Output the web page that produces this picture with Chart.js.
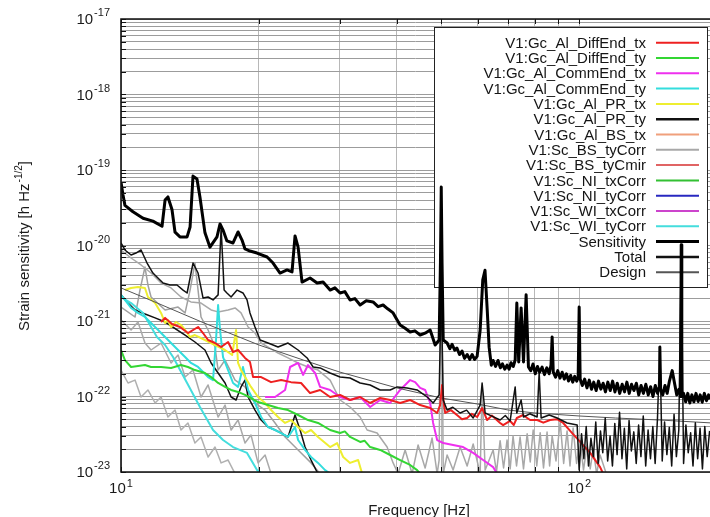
<!DOCTYPE html>
<html>
<head>
<meta charset="utf-8">
<title>Strain sensitivity</title>
<script src="https://cdn.jsdelivr.net/npm/chart.js@4.4.1/dist/chart.umd.min.js"></script>
<style>
  html, body { margin: 0; padding: 0; background: #fff; }
  #wrap { width: 710px; height: 517px; }
</style>
</head>
<body>
<div id="wrap"><canvas id="sensChart" width="710" height="517"></canvas></div>
<script>
// --- values: [frequency Hz, strain 1/sqrt(Hz)] ---

const sensitivity = [
  [10.0, 6.9e-20], [10.1, 4.7e-20], [10.2, 3.4e-20], [10.62, 2.8e-20], [11.17, 2.3e-20],
  [11.74, 2.1e-20], [12.29, 1.8e-20], [12.48, 4.0e-20], [12.66, 4.4e-20], [12.92, 3.0e-20],
  [13.12, 1.5e-20], [13.45, 1.3e-20], [13.94, 1.3e-20], [14.15, 1.76e-20], [14.36, 8.3e-20],
  [14.65, 7.6e-20], [14.87, 4.4e-20], [15.25, 1.47e-20], [15.64, 9.5e-21], [16.2, 1.3e-20],
  [16.45, 1.93e-20], [16.7, 1.6e-20], [17.03, 1.15e-20], [17.56, 1.08e-20], [18.01, 1.51e-20],
  [18.37, 1.18e-20], [18.65, 9.0e-21], [19.12, 8.45e-21], [19.81, 7.95e-21], [20.84, 7.04e-21],
  [21.47, 5.86e-21], [22.24, 4.32e-21], [23.04, 4.74e-21], [23.62, 4.46e-21], [23.98, 1.34e-20],
  [24.35, 9.5e-21], [24.84, 3.28e-21], [25.86, 3.71e-21], [26.79, 3.18e-21], [27.61, 3.28e-21],
  [28.6, 2.57e-21], [29.3, 2.75e-21], [30.07, 2.35e-21], [30.8, 2.45e-21], [31.62, 1.9e-21],
  [32.4, 1.98e-21], [33.26, 1.63e-21], [34.3, 1.85e-21], [35.49, 1.79e-21], [36.4, 1.55e-21],
  [37.33, 1.63e-21], [38.2, 1.45e-21], [39.26, 1.28e-21], [40.0, 1.05e-21], [40.66, 8.85e-22],
  [41.7, 8.0e-22], [42.76, 7.15e-22], [43.8, 7.4e-22], [44.97, 6.52e-22], [46.1, 6.9e-22],
  [47.29, 7.6e-22], [48.49, 4.81e-22], [49.47, 5.6e-22], [49.8, 6.0e-21], [50.0, 5.95e-20],
  [50.2, 6.0e-21], [50.5, 5.6e-22], [51.5, 5.11e-22], [52.2, 4.3e-22], [52.8, 4.9e-22],
  [53.5, 4.1e-22], [54.1, 4.39e-22], [54.8, 3.6e-22], [55.5, 4.0e-22], [56.2, 3.2e-22],
  [56.95, 3.6e-22], [57.7, 3.1e-22], [58.4, 3.6e-22], [59.1, 3.1e-22], [59.88, 3.4e-22],
  [60.8, 7.6e-22], [61.6, 3.5e-21], [62.3, 4.7e-21], [63.0, 1.4e-21], [63.6, 4.5e-22],
  [64.3, 2.6e-22], [64.9, 3.0e-22], [65.7, 2.5e-22], [66.5, 3.0e-22], [67.3, 2.4e-22],
  [68.0, 2.7e-22], [68.8, 2.3e-22], [69.6, 2.6e-22], [70.3, 2.3e-22], [71.0, 2.8e-22],
  [71.8, 2.5e-22], [72.5, 3.04e-22], [73.1, 1.73e-21], [73.8, 2.86e-22], [74.7, 1.49e-21],
  [75.6, 2.86e-22], [76.6, 2.22e-21], [77.5, 2.46e-22], [78.4, 2.2e-22], [79.3, 2.7e-22],
  [80.2, 2.0e-22], [81.1, 2.5e-22], [82.0, 2.1e-22], [83.0, 2.45e-22], [84.0, 1.95e-22],
  [85.0, 2.4e-22], [86.0, 2.0e-22], [86.8, 2.6e-22], [87.3, 6.14e-22], [87.8, 2.1e-22],
  [88.8, 1.8e-22], [89.8, 2.2e-22], [90.8, 1.75e-22], [91.8, 2.1e-22], [92.8, 1.7e-22],
  [93.8, 2.0e-22], [94.8, 1.6e-22], [95.8, 1.9e-22], [96.8, 1.55e-22], [97.8, 1.85e-22],
  [98.8, 1.6e-22], [99.5, 1.8e-22], [100.0, 1.53e-21], [100.5, 1.7e-22], [101.6, 1.4e-22],
  [102.8, 1.7e-22], [104.0, 1.3e-22], [105.2, 1.65e-22], [106.4, 1.25e-22], [107.6, 1.55e-22],
  [108.9, 1.2e-22], [110.2, 1.6e-22], [111.5, 1.25e-22], [112.8, 1.5e-22], [114.1, 1.15e-22],
  [115.5, 1.55e-22], [116.9, 1.2e-22], [118.3, 1.6e-22], [119.7, 1.15e-22], [121.1, 1.5e-22],
  [122.6, 1.1e-22], [124.1, 1.45e-22], [125.6, 1.15e-22], [127.1, 1.55e-22], [128.6, 1.1e-22],
  [130.1, 1.45e-22], [131.7, 1.2e-22], [133.3, 1.5e-22], [134.9, 1.05e-22], [136.5, 1.4e-22],
  [138.1, 1.1e-22], [139.8, 1.45e-22], [141.5, 1.05e-22], [143.2, 1.35e-22], [144.9, 1.0e-22],
  [146.6, 1.4e-22], [148.3, 1.1e-22], [149.4, 1.3e-22], [150.0, 4.52e-22], [150.6, 1.25e-22],
  [152.2, 1.05e-22], [153.9, 1.4e-22], [155.6, 1.1e-22], [157.4, 1.6e-22], [159.6, 2.2e-22],
  [161.5, 1.5e-22], [163.3, 1.05e-22], [165.2, 1.25e-22], [166.5, 1.0e-22], [167.0, 1.02e-20],
  [167.5, 1.0e-22], [169.0, 1.1e-22], [170.8, 8.5e-23], [172.6, 1.1e-22], [174.4, 8.2e-23],
  [176.2, 1.05e-22], [178.0, 8.5e-23], [179.9, 1.1e-22], [181.8, 8.6e-23], [183.7, 1.05e-22],
  [185.6, 8.4e-23], [187.6, 1.1e-22], [189.6, 8.8e-23], [191.6, 1.05e-22], [193.0, 9.2e-23]
];

const total = [
  [10.0, 1.08e-20], [10.2, 8.72e-21], [10.52, 7.49e-21], [10.78, 7.95e-21], [11.06, 8.72e-21],
  [11.4, 5.86e-21], [11.74, 4.32e-21], [12.35, 3.18e-21], [12.79, 3.0e-21], [13.25, 3.0e-21],
  [13.66, 2.57e-21], [13.94, 2.35e-21], [14.36, 5.86e-21], [14.73, 4.32e-21], [15.1, 2.02e-21],
  [15.49, 2.08e-21], [15.88, 1.9e-21], [16.29, 2.22e-21], [16.54, 1.71e-20], [16.79, 2.57e-21],
  [17.03, 2.35e-21], [17.39, 2.08e-21], [17.92, 2.57e-21], [18.46, 2.35e-21], [18.84, 1.9e-21],
  [19.12, 1.28e-21], [19.61, 8.33e-22], [20.12, 5.6e-22], [20.94, 5.11e-22], [22.02, 4.52e-22],
  [23.15, 5.11e-22], [24.35, 4.13e-22], [25.48, 3.24e-22], [26.26, 2.46e-22], [27.2, 2.39e-22],
  [28.6, 2.05e-22], [30.07, 1.81e-22], [31.62, 1.76e-22], [33.26, 1.51e-22], [34.98, 1.42e-22],
  [36.78, 1.22e-22], [38.68, 1.22e-22], [40.06, 1.34e-22], [42.12, 1.3e-22], [44.29, 1.22e-22],
  [46.58, 9.85e-23], [48.0, 8.2e-23], [49.47, 1.05e-22], [50.0, 2.57e-21], [50.5, 8.99e-23],
  [51.5, 6.62e-23], [53.0, 7.2e-23], [54.98, 6.05e-23], [56.8, 6.6e-23], [58.7, 5.19e-23],
  [60.8, 7.71e-23], [61.4, 1.51e-22], [62.34, 6.05e-23], [64.5, 5.5e-23], [67.21, 4.88e-23],
  [69.0, 5.6e-23], [70.68, 4.74e-23], [72.5, 1.34e-22], [73.1, 6.05e-23], [74.7, 8.99e-23],
  [75.6, 5.35e-23], [78.0, 5.9e-23], [80.97, 5.35e-23], [81.79, 2.11e-22], [82.6, 5.19e-23],
  [86.0, 5.7e-23], [89.54, 5.19e-23], [94.1, 4.46e-23], [99.0, 4.18e-23], [100.0, 1.06e-23],
  [101.2, 3.2e-23], [102.4, 1.5e-23], [103.6, 4.0e-23], [104.8, 1.2e-23], [106.1, 2.8e-23],
  [107.4, 1.6e-23], [108.7, 4.6e-23], [110.0, 1.3e-23], [111.3, 3.5e-23], [112.6, 1.8e-23],
  [114.0, 5.2e-23], [115.4, 1.4e-23], [116.8, 3.0e-23], [118.2, 1.2e-23], [119.6, 4.4e-23],
  [121.0, 1.7e-23], [122.5, 6.2e-23], [124.0, 1.5e-23], [125.5, 3.8e-23], [127.0, 1.1e-23],
  [128.5, 4.8e-23], [130.0, 1.9e-23], [131.6, 3.4e-23], [133.2, 1.3e-23], [134.8, 4.2e-23],
  [136.4, 1.6e-23], [138.0, 5.5e-23], [139.7, 1.2e-23], [141.4, 3.6e-23], [143.1, 1.5e-23],
  [144.8, 4.0e-23], [146.5, 1.3e-23], [148.2, 5.0e-23], [150.0, 4.52e-22], [151.8, 1.4e-23],
  [153.6, 4.6e-23], [155.4, 1.7e-23], [157.3, 3.9e-23], [159.2, 1.2e-23], [161.1, 5.8e-23],
  [163.0, 1.6e-23], [165.0, 3.6e-23], [167.0, 8.72e-21], [169.0, 1.3e-23], [171.0, 4.2e-23],
  [173.0, 1.8e-23], [175.1, 3.3e-23], [177.2, 1.2e-23], [179.3, 4.5e-23], [181.4, 1.5e-23],
  [183.6, 3.8e-23], [185.8, 1.1e-23], [188.0, 4.0e-23], [190.3, 1.6e-23], [192.6, 3.5e-23]
];

const design = [
  [10, 2.74e-21], [12, 1.73e-21], [15, 9.7e-22], [20, 4.81e-22], [25, 3.04e-22],
  [30, 2.11e-22], [40, 1.3e-22], [50, 9.55e-23], [60, 7.95e-23], [70, 6.62e-23],
  [80, 6.05e-23], [100, 5.52e-23], [120, 5.19e-23], [150, 4.88e-23], [195, 4.46e-23]
];

const diffEndTx = [
  [12.23, 9.7e-22], [12.48, 1.1e-21], [12.92, 9.13e-22], [13.45, 8.33e-22], [14.0, 6.93e-22],
  [14.73, 8.33e-22], [15.1, 6.93e-22], [15.49, 5.6e-22], [16.04, 5.11e-22], [16.54, 4.52e-22],
  [17.13, 5.27e-22], [17.56, 3.88e-22], [18.01, 4.13e-22], [18.65, 3.24e-22], [19.12, 2.86e-22],
  [19.42, 1.81e-22], [20.22, 1.81e-22], [21.26, 1.55e-22], [22.36, 1.65e-22], [23.5, 1.55e-22],
  [24.72, 1.51e-22], [25.86, 1.11e-22], [27.2, 1.22e-22], [28.6, 9.85e-23], [30.07, 1.05e-22],
  [31.62, 8.99e-23], [33.26, 9.85e-23], [34.98, 8.2e-23], [36.78, 9.55e-23], [38.68, 8.99e-23],
  [40.66, 8.2e-23], [42.76, 8.99e-23], [44.97, 7.71e-23], [47.29, 7.04e-23], [48.98, 6.05e-23],
  [49.72, 7.71e-23], [50.2, 1.42e-22], [50.7, 7.71e-23], [51.0, 6.05e-23], [52.5, 6.6e-23],
  [54.1, 5.69e-23], [55.5, 5.0e-23], [56.95, 5.19e-23], [58.3, 5.9e-23], [59.88, 5.35e-23],
  [61.4, 7.04e-23], [62.97, 4.88e-23], [64.5, 5.6e-23], [67.21, 4.46e-23], [68.24, 4.18e-23],
  [70.68, 4.74e-23], [72.0, 4.2e-23], [73.1, 5.19e-23], [75.45, 5.69e-23], [77.0, 5.2e-23],
  [78.16, 4.88e-23], [80.97, 4.88e-23], [83.5, 4.5e-23], [86.4, 4.88e-23], [89.5, 5.0e-23],
  [92.28, 4.46e-23], [96.54, 3.28e-23], [100.5, 2.5e-23], [105.7, 1.79e-23], [111.1, 1.16e-23],
  [112.8, 9.5e-24]
];

const diffEndTy = [
  [10.0, 4.13e-22], [10.2, 3.04e-22], [10.52, 2.46e-22], [11.28, 2.61e-22], [11.63, 2.46e-22],
  [12.23, 2.46e-22], [12.86, 2.39e-22], [13.52, 2.61e-22], [14.0, 2.46e-22], [14.5, 2.24e-22],
  [15.25, 2.05e-22], [15.73, 1.81e-22], [16.29, 1.51e-22], [16.87, 1.34e-22], [17.39, 1.22e-22],
  [18.01, 1.15e-22], [18.65, 1.05e-22], [19.22, 9.55e-23], [19.91, 8.45e-23], [20.94, 7.71e-23],
  [22.02, 7.04e-23], [23.15, 6.62e-23], [24.35, 5.69e-23], [25.6, 4.88e-23], [26.92, 4.46e-23],
  [28.6, 3.6e-23], [30.07, 3.28e-23], [30.8, 3.45e-23], [31.62, 2.91e-23], [33.26, 2.5e-23],
  [34.0, 2.6e-23], [34.98, 2.14e-23], [36.78, 1.96e-23], [38.68, 1.68e-23], [40.66, 1.44e-23],
  [42.76, 1.24e-23], [44.29, 1.06e-23], [44.97, 9.5e-24]
];

const commEndTx = [
  [20.63, 9.85e-23], [21.69, 9.85e-23], [22.81, 1.22e-22], [23.39, 2.46e-22], [24.35, 2.78e-22],
  [24.97, 1.93e-22], [25.6, 2.61e-22], [26.52, 2.05e-22], [27.2, 1.34e-22], [28.6, 1.22e-22],
  [30.07, 9.85e-23], [31.62, 8.99e-23], [33.26, 9.85e-23], [34.98, 7.26e-23], [36.78, 8.99e-23],
  [38.68, 8.2e-23], [40.66, 1.22e-22], [42.12, 1.51e-22], [42.76, 1.65e-22], [43.85, 1.55e-22],
  [44.97, 1.3e-22], [46.11, 1.22e-22], [47.29, 8.2e-23], [48.0, 4.46e-23], [48.98, 2.65e-23],
  [50.5, 2.42e-23], [53.07, 2.28e-23], [55.8, 2.14e-23], [58.7, 1.79e-23], [61.71, 1.44e-23],
  [64.9, 1.16e-23], [66.22, 9.5e-24]
];

const commEndTy = [
  [10.0, 2.22e-21], [10.52, 1.49e-21], [10.89, 1.28e-21], [11.28, 1.13e-21], [11.63, 9.41e-22],
  [12.05, 7.6e-22], [12.48, 6.14e-22], [12.86, 5.11e-22], [13.32, 4.13e-22], [13.8, 3.33e-22],
  [14.21, 2.78e-22], [14.73, 2.46e-22], [15.49, 1.81e-22], [15.88, 1.65e-22], [16.12, 5.6e-22],
  [16.29, 1.63e-21], [16.45, 7.6e-22], [16.7, 3.33e-22], [17.13, 2.24e-22], [17.56, 1.51e-22],
  [18.01, 1.34e-22], [18.46, 2.46e-22], [18.94, 1.22e-22], [19.61, 8.2e-23], [20.22, 5.35e-23],
  [20.94, 3.94e-23], [21.69, 3.6e-23], [22.36, 3.28e-23], [23.15, 2.91e-23], [23.98, 3.94e-23],
  [24.35, 2.65e-23], [25.22, 1.96e-23], [25.99, 1.58e-23], [26.92, 1.32e-23], [27.89, 1.06e-23],
  [28.6, 9.5e-24]
];

const prTx = [
  [10.2, 2.57e-21], [10.52, 2.74e-21], [10.89, 2.82e-21], [11.28, 2.74e-21], [11.45, 2.08e-21],
  [11.87, 1.73e-21], [12.23, 1.28e-21], [12.48, 9.41e-22], [12.66, 1.03e-21], [12.86, 8.33e-22],
  [13.19, 9.7e-22], [13.52, 8.85e-22], [13.8, 7.6e-22], [14.15, 6.14e-22], [14.5, 6.52e-22],
  [15.25, 5.6e-22], [16.04, 4.81e-22], [16.87, 4.13e-22], [17.48, 3.54e-22], [17.83, 7.6e-22],
  [18.01, 2.78e-22], [18.28, 2.24e-22], [18.65, 1.81e-22], [19.22, 1.34e-22], [19.91, 9.85e-23],
  [20.63, 8.2e-23], [21.26, 6.62e-23], [22.02, 5.35e-23], [22.81, 4.46e-23], [23.5, 4.88e-23],
  [24.35, 3.94e-23], [25.22, 3.28e-23], [25.99, 3.6e-23], [26.92, 2.91e-23], [28.6, 2.14e-23],
  [29.63, 2.42e-23], [30.54, 1.58e-23], [31.62, 1.32e-23], [32.93, 1.44e-23], [33.6, 9.5e-24]
];

const prTy = [
  [10.0, 2.22e-21], [10.36, 1.73e-21], [10.73, 1.4e-21], [11.28, 1.24e-21], [11.87, 1.1e-21],
  [12.48, 9.7e-22], [13.8, 6.52e-22], [14.5, 5.27e-22], [15.25, 4.13e-22], [15.73, 2.78e-22],
  [16.29, 2.05e-22], [16.87, 1.51e-22], [17.39, 9.85e-23], [17.83, 8.99e-23], [18.28, 1.34e-22],
  [18.65, 1.65e-22], [18.94, 9.85e-23], [19.61, 6.62e-23], [20.22, 4.88e-23], [20.94, 3.94e-23],
  [21.69, 3.6e-23], [22.36, 3.28e-23], [23.15, 2.91e-23], [23.98, 5.69e-23], [24.6, 3.6e-23],
  [25.22, 2.14e-23], [25.99, 1.44e-23], [26.66, 1.06e-23], [26.92, 9.5e-24]
];

const bsTyCorr = [
  [10.0, 8.72e-21], [10.52, 6.83e-21], [11.06, 5.52e-21], [11.63, 4.32e-21], [12.23, 3.18e-21],
  [12.86, 2.74e-21], [13.52, 2.08e-21], [14.21, 1.79e-21], [14.95, 1.73e-21], [15.73, 1.4e-21],
  [16.29, 1.32e-21], [17.13, 1.4e-21], [17.74, 1.49e-21], [18.28, 1.28e-21], [18.94, 8.33e-22],
  [19.61, 6.93e-22], [20.22, 5.11e-22], [20.94, 4.52e-22], [22.02, 3.77e-22], [23.15, 3.24e-22],
  [24.35, 2.78e-22], [25.6, 2.46e-22], [26.92, 2.24e-22], [28.6, 1.65e-22], [30.07, 8.99e-23],
  [31.62, 7.26e-23], [33.26, 5.35e-23], [34.45, 3.6e-23], [36.22, 3.28e-23], [38.09, 2.14e-23],
  [39.26, 1.32e-23], [40.25, 9.5e-24], [41.7, 1.96e-23], [43.19, 9.5e-24], [44.51, 2.28e-23],
  [46.11, 1.13e-23], [47.75, 2.82e-23], [48.98, 9.5e-24], [49.47, 1.44e-23], [50.0, 4.66e-20],
  [50.5, 9.5e-24], [51.5, 1.68e-23], [53.07, 1.06e-23], [54.98, 2.14e-23], [56.95, 1.2e-23],
  [58.7, 2.35e-23], [60.8, 9.5e-24], [61.4, 1.3e-22], [62.34, 1.06e-23], [64.9, 1.96e-23],
  [66.0, 1.0e-23], [67.21, 2.6e-23], [68.4, 1.13e-23], [69.6, 2.65e-23], [70.7, 1.1e-23],
  [71.73, 3.0e-23], [73.0, 1.2e-23], [74.31, 2.91e-23], [75.6, 1.1e-23], [77.0, 3.2e-23],
  [78.2, 1.36e-23], [79.36, 3.6e-23], [80.8, 1.2e-23], [82.2, 3.3e-23], [83.6, 1.13e-23],
  [85.1, 3.39e-23], [86.2, 1.2e-23], [87.3, 3.0e-23], [89.0, 1.4e-23], [90.9, 4.59e-23],
  [92.5, 1.3e-23], [94.1, 3.5e-23], [95.5, 1.2e-23], [97.0, 3.82e-23], [98.7, 1.3e-23],
  [100.5, 2.6e-23], [102.2, 1.06e-23], [104.1, 2.28e-23], [105.7, 1.1e-23], [107.3, 2.0e-23],
  [109.2, 9.5e-24], [111.1, 1.68e-23], [114.6, 9.5e-24]
];

const wiTyCorr = [
  [10.0, 2.08e-21], [10.52, 1.73e-21], [11.17, 1.28e-21], [11.98, 6.14e-22], [12.48, 4.81e-22],
  [12.99, 3.33e-22], [13.94, 1.51e-22], [14.87, 7.26e-23], [15.88, 3.6e-23], [16.7, 2.65e-23],
  [17.56, 2.14e-23], [18.84, 1.79e-23], [19.81, 1.06e-23], [20.32, 9.5e-24]
];

// unlabeled grey traces in the low-frequency region
const greyA = [
  [10.0, 1.03e-21], [10.52, 7.6e-22], [10.89, 9.7e-22], [11.28, 5.11e-22], [11.63, 4.13e-22],
  [12.23, 5.11e-22], [12.86, 2.78e-22], [13.32, 3.54e-22], [13.8, 1.81e-22], [14.36, 2.24e-22],
  [14.95, 9.85e-23], [15.49, 1.42e-22], [16.29, 5.35e-23], [16.87, 7.71e-23], [17.39, 3.6e-23],
  [18.01, 4.88e-23], [18.65, 2.42e-23], [19.22, 3.09e-23], [19.91, 1.32e-23], [20.63, 1.68e-23],
  [21.26, 9.5e-24]
];
const greyB = [
  [10.0, 2.24e-22], [10.36, 1.51e-22], [10.73, 1.65e-22], [11.06, 9.85e-23], [11.45, 1.22e-22],
  [11.87, 8.2e-23], [12.23, 9.85e-23], [12.66, 5.35e-23], [13.12, 6.62e-23], [13.52, 3.6e-23],
  [14.0, 4.46e-23], [14.5, 2.42e-23], [14.95, 2.91e-23], [15.49, 1.58e-23], [16.04, 2.14e-23],
  [16.54, 1.32e-23], [17.13, 1.44e-23], [17.74, 9.5e-24]
];
const greyC = [
  [10.0, 1.53e-21], [10.73, 1.13e-21], [11.0, 2.57e-21], [11.28, 5.19e-21], [11.45, 3.0e-21],
  [11.63, 2.08e-21], [12.48, 1.4e-21], [13.32, 1.53e-21], [13.8, 1.28e-21], [14.15, 2.57e-21],
  [14.5, 5.86e-21], [14.73, 2.57e-21], [14.95, 1.13e-21], [15.49, 7.6e-22], [16.04, 4.52e-22],
  [16.29, 2.24e-22], [16.87, 3.04e-22], [17.74, 1.65e-22], [18.65, 1.34e-22], [19.61, 8.2e-23],
  [20.63, 6.62e-23], [21.69, 4.46e-23], [22.81, 2.91e-23], [24.35, 1.96e-23], [25.99, 1.32e-23],
  [27.2, 9.5e-24]
];

// axis ranges, grid and tick labels
const freqRange = [10, 193];
const strainRange = [1e-23, 1e-17];
const xGridFreqs = [10, 20, 30, 40, 50, 60, 70, 80, 90, 100];
const xLabelExps = [1, 2];
const yDecadeExps = [-23, -22, -21, -20, -19, -18];
const yLabelExps = [-23, -22, -21, -20, -19, -18, -17];

const FONT = '"Liberation Sans", Arial, Helvetica, sans-serif';

const yGridValues = [];
yDecadeExps.forEach(e => {
  for (let k = 1; k <= 9; k++) yGridValues.push(Number((k * Math.pow(10, e)).toPrecision(3)));
});
yGridValues.push(strainRange[1]);

const series = [
  { label: 'V1:Gc_Al_DiffEnd_tx', points: diffEndTx, color: '#ee2020', width: 2, order: 2 },
  { label: 'V1:Gc_Al_DiffEnd_ty', points: diffEndTy, color: '#33d633', width: 2, order: 5 },
  { label: 'V1:Gc_Al_CommEnd_tx', points: commEndTx, color: '#ee30ee', width: 2, order: 4 },
  { label: 'V1:Gc_Al_CommEnd_ty', points: commEndTy, color: '#33dddd', width: 2, order: 7 },
  { label: 'V1:Gc_Al_PR_tx', points: prTx, color: '#eeee30', width: 2, order: 6 },
  { label: 'V1:Gc_Al_PR_ty', points: prTy, color: '#111111', width: 1.5, order: 9, legendWidth: 2.5 },
  { label: 'V1:Gc_Al_BS_tx', points: [], color: '#f0a07c', width: 2, order: 20 },
  { label: 'V1:Sc_BS_tyCorr', points: bsTyCorr, color: '#a8a8a8', width: 1.5, order: 10, legendWidth: 2 },
  { label: 'V1:Sc_BS_tyCmir', points: [], color: '#e06464', width: 2, order: 20 },
  { label: 'V1:Sc_NI_txCorr', points: [], color: '#33c033', width: 2, order: 20 },
  { label: 'V1:Sc_NI_tyCorr', points: [], color: '#2828c0', width: 2, order: 20 },
  { label: 'V1:Sc_WI_txCorr', points: [], color: '#cc44cc', width: 2, order: 20 },
  { label: 'V1:Sc_WI_tyCorr', points: wiTyCorr, color: '#44dddd', width: 2, order: 8 },
  { label: 'Sensitivity', points: sensitivity, color: '#000000', width: 3, order: 0 },
  { label: 'Total', points: total, color: '#111111', width: 1.5, order: 1, legendWidth: 2.5 },
  { label: 'Design', points: design, color: '#555555', width: 1, order: 3 },
  { label: '', points: greyA, color: '#aaaaaa', width: 1.5, order: 11 },
  { label: '', points: greyB, color: '#b0b0b0', width: 1.5, order: 12 },
  { label: '', points: greyC, color: '#a0a0a0', width: 1.5, order: 13 }
];

const datasets = series.map(s => ({
  label: s.label,
  data: s.points.map(([f, v]) => ({ x: f, y: v })),
  borderColor: s.color,
  backgroundColor: s.color,
  borderWidth: s.width,
  legendWidth: s.legendWidth || s.width,
  borderJoinStyle: 'round',
  pointRadius: 0,
  fill: false,
  tension: 0,
  order: s.order
}));

// legend box drawn under the curves, like the original
const legendBox = {
  id: 'legendBox',
  beforeDatasetsDraw(chart) {
    const ctx = chart.ctx;
    const items = chart.data.datasets.filter(d => d.label);
    const left = 434, top = 27, right = 707, bottom = 287;
    ctx.save();
    ctx.fillStyle = '#ffffff';
    ctx.fillRect(left, top, right - left, bottom - top);
    ctx.strokeStyle = '#222';
    ctx.lineWidth = 1;
    ctx.strokeRect(left + 0.5, top + 0.5, right - left, bottom - top);
    ctx.font = '15px ' + FONT;
    ctx.textAlign = 'right';
    ctx.textBaseline = 'middle';
    ctx.fillStyle = '#151515';
    items.forEach((d, i) => {
      const y = 42.7 + i * 15.3;
      ctx.fillText(d.label, 646, y + 1);
      ctx.strokeStyle = d.borderColor;
      ctx.lineWidth = Math.max(2, d.legendWidth);
      ctx.beginPath();
      ctx.moveTo(656, y);
      ctx.lineTo(699, y);
      ctx.stroke();
    });
    ctx.restore();
  }
};

// frame, inner tick marks, power-of-ten labels and axis titles
const axisText = {
  id: 'axisText',
  afterDraw(chart) {
    const { ctx, chartArea: a, scales: { x, y } } = chart;
    ctx.save();
    ctx.strokeStyle = '#111';
    ctx.lineWidth = 1;
    yGridValues.forEach(v => {
      const py = Math.round(y.getPixelForValue(v)) + 0.5;
      ctx.beginPath(); ctx.moveTo(a.left, py); ctx.lineTo(a.left + 5, py); ctx.stroke();
    });
    xGridFreqs.forEach(f => {
      const px = Math.round(x.getPixelForValue(f)) + 0.5;
      ctx.beginPath(); ctx.moveTo(px, a.top); ctx.lineTo(px, a.top + 5); ctx.stroke();
      ctx.beginPath(); ctx.moveTo(px, a.bottom); ctx.lineTo(px, a.bottom - 5); ctx.stroke();
    });
    ctx.lineWidth = 1.6;
    ctx.beginPath();
    ctx.moveTo(a.right + 2, a.top);
    ctx.lineTo(a.left, a.top);
    ctx.lineTo(a.left, a.bottom);
    ctx.lineTo(a.right + 2, a.bottom);
    ctx.stroke();

    ctx.fillStyle = '#1a1a1a';
    ctx.textAlign = 'left';
    ctx.textBaseline = 'middle';
    yLabelExps.forEach(e => {
      const py = y.getPixelForValue(Math.pow(10, e));
      ctx.font = '15px ' + FONT;
      const wb = ctx.measureText('10').width;
      ctx.font = '11px ' + FONT;
      const we = ctx.measureText(String(e)).width;
      const right = a.left - 11;
      ctx.font = '15px ' + FONT;
      ctx.fillText('10', right - we - wb - 1, py + 1);
      ctx.font = '11px ' + FONT;
      ctx.fillText(String(e), right - we, py - 6);
    });
    xLabelExps.forEach(e => {
      const px = x.getPixelForValue(Math.pow(10, e));
      ctx.font = '15px ' + FONT;
      const wb = ctx.measureText('10').width;
      ctx.font = '11px ' + FONT;
      const we = ctx.measureText(String(e)).width;
      const start = px - (wb + we + 1) / 2;
      ctx.font = '15px ' + FONT;
      ctx.fillText('10', start, a.bottom + 17);
      ctx.font = '11px ' + FONT;
      ctx.fillText(String(e), start + wb + 1, a.bottom + 12);
    });

    ctx.font = '15px ' + FONT;
    ctx.textAlign = 'center';
    ctx.fillText('Frequency [Hz]', (a.left + a.right) / 2 + 3.5, a.bottom + 39);

    // rotated y title with the -1/2 exponent
    const main = 'Strain sensitivity [h Hz';
    const sup = '-1/2';
    const tail = ']';
    ctx.font = '15px ' + FONT;
    const wm = ctx.measureText(main).width;
    const wt = ctx.measureText(tail).width;
    ctx.font = '10px ' + FONT;
    const ws = ctx.measureText(sup).width;
    const totalW = wm + ws + wt + 1;
    ctx.translate(25, 246);
    ctx.rotate(-Math.PI / 2);
    ctx.textAlign = 'left';
    let cx = -totalW / 2;
    ctx.font = '15px ' + FONT;
    ctx.fillText(main, cx, 0);
    cx += wm + 1;
    ctx.font = '10px ' + FONT;
    ctx.fillText(sup, cx, -6);
    cx += ws;
    ctx.font = '15px ' + FONT;
    ctx.fillText(tail, cx, 0);
    ctx.restore();
  }
};

const ctx = document.getElementById('sensChart').getContext('2d');
const sensChart = new Chart(ctx, {
  type: 'line',
  data: { datasets },
  options: {
    responsive: false,
    animation: false,
    events: [],
    layout: { padding: { left: 121, top: 19, right: 0, bottom: 45 } },
    plugins: {
      legend: { display: false },
      tooltip: { enabled: false },
      title: { display: false }
    },
    scales: {
      x: {
        type: 'logarithmic',
        min: freqRange[0],
        max: freqRange[1],
        border: { display: false },
        grid: { color: '#b8b8b8', lineWidth: 1, drawTicks: false },
        ticks: { display: false },
        afterBuildTicks: scale => { scale.ticks = xGridFreqs.map(v => ({ value: v })); }
      },
      y: {
        type: 'logarithmic',
        min: strainRange[0],
        max: strainRange[1],
        border: { display: false },
        grid: { color: '#9c9c9c', lineWidth: 1, drawTicks: false },
        ticks: { display: false },
        afterBuildTicks: scale => { scale.ticks = yGridValues.map(v => ({ value: v })); }
      }
    }
  },
  plugins: [legendBox, axisText]
});
</script>
</body>
</html>
